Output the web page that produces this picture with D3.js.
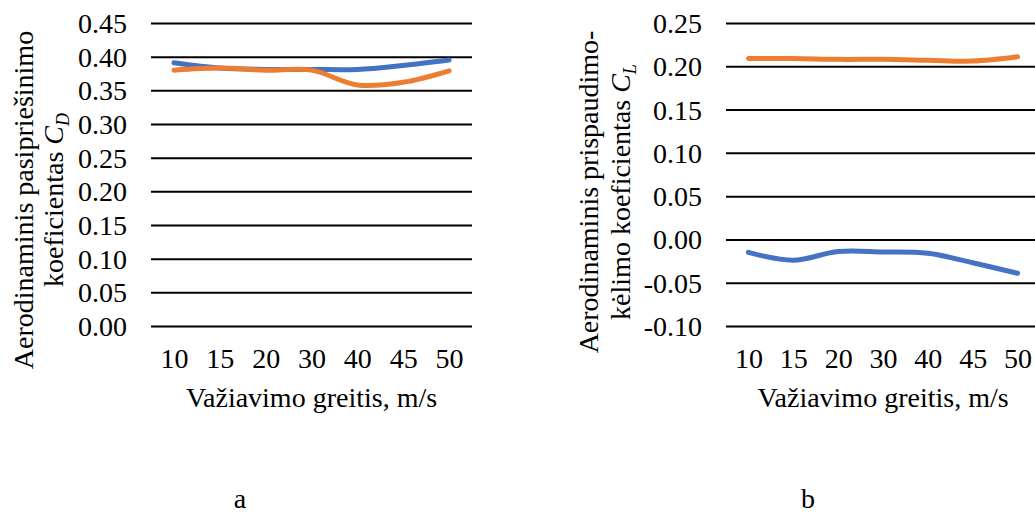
<!DOCTYPE html>
<html>
<head>
<meta charset="utf-8">
<script src="https://cdn.jsdelivr.net/npm/d3@7"></script>
<style>
  body { margin: 0; background: #fff; }
  svg text { font-family: "Liberation Serif", "Times New Roman", serif; fill: #000; }
</style>
</head>
<body>
<div id="chart"></div>
<script>
// Data
const categories = ["10", "15", "20", "30", "40", "45", "50"];
const dragBlue = [0.391, 0.383, 0.381, 0.381, 0.381, 0.387, 0.395];
const dragOrange = [0.380, 0.383, 0.380, 0.380, 0.358, 0.362, 0.379];
const liftBlue = [-0.015, -0.024, -0.014, -0.0145, -0.016, -0.027, -0.039];
const liftOrange = [0.209, 0.209, 0.208, 0.208, 0.207, 0.206, 0.211];
const dragTicks = [0, 0.05, 0.10, 0.15, 0.20, 0.25, 0.30, 0.35, 0.40, 0.45];
const liftTicks = [-0.10, -0.05, 0, 0.05, 0.10, 0.15, 0.20, 0.25];

const width = 1035;
const height = 514;
const blue = "#4472C4";
const orange = "#ED7D31";

const svg = d3.select("#chart")
    .append("svg")
    .attr("width", width)
    .attr("height", height);

const fmt = d => d3.format(".2f")(d).replace("\u2212", "-");

function drawChart(o) {
    const g = svg.append("g");

    const x = d3.scalePoint()
        .domain(categories)
        .range([o.left, o.right])
        .padding(0.5);

    const y = d3.scaleLinear()
        .domain(o.domain)
        .range([o.bottom, o.top]);

    // y axis with gridlines
    const yAxis = g.append("g")
        .attr("transform", `translate(${o.left},0)`)
        .call(d3.axisLeft(y)
            .tickValues(o.ticks)
            .tickSize(-(o.right - o.left))
            .tickPadding(24)
            .tickFormat(fmt));
    yAxis.select(".domain").remove();
    yAxis.selectAll("line").attr("stroke", "#000").attr("stroke-width", 2);
    yAxis.selectAll("text").style("font-size", "28px").attr("dy", "0.34em");

    // x axis labels
    const xAxis = g.append("g")
        .attr("transform", `translate(0,${o.bottom})`)
        .call(d3.axisBottom(x).tickSize(0).tickPadding(22));
    xAxis.select(".domain").remove();
    xAxis.selectAll("text").style("font-size", "28px");

    // lines
    const line = d3.line()
        .x((d, i) => x(categories[i]))
        .y(d => y(d))
        .curve(d3.curveCatmullRom.alpha(0.5));

    o.series.forEach(s => {
        g.append("path")
            .datum(s.values)
            .attr("d", line)
            .attr("fill", "none")
            .attr("stroke", s.color)
            .attr("stroke-width", 5)
            .attr("stroke-linecap", "round");
    });

    // x axis title
    g.append("text")
        .attr("x", (o.left + o.right) / 2 + o.titleShift)
        .attr("y", 407)
        .attr("text-anchor", "middle")
        .style("font-size", "28px")
        .text("Važiavimo greitis, m/s");

    // y axis title, two lines
    const yt = g.append("text")
        .attr("transform", `translate(${o.yTitleX},${o.yTitleY}) rotate(-90)`)
        .attr("text-anchor", "middle")
        .style("font-size", "28px");
    yt.append("tspan").attr("x", 0).attr("y", 0).text(o.yTitle1);
    yt.append("tspan").attr("x", 0).attr("y", o.lineGap).text(o.yTitle2);
    yt.append("tspan").style("font-style", "italic").text("C");
    yt.append("tspan")
        .style("font-style", "italic")
        .style("font-size", "18px")
        .attr("dy", 6)
        .text(o.sub);

    // panel letter
    svg.append("text")
        .attr("x", o.letterX)
        .attr("y", 508)
        .attr("text-anchor", "middle")
        .style("font-size", "28px")
        .text(o.letter);
}

drawChart({
    left: 151, right: 472, top: 23, bottom: 326,
    domain: [0, 0.45], ticks: dragTicks,
    series: [{ values: dragBlue, color: blue }, { values: dragOrange, color: orange }],
    titleShift: 0,
    yTitleX: 33, yTitleY: 200, lineGap: 30,
    yTitle1: "Aerodinaminis pasipriešinimo",
    yTitle2: "koeficientas ",
    sub: "D",
    letter: "a", letterX: 240
});

drawChart({
    left: 726, right: 1040, top: 23, bottom: 326,
    domain: [-0.10, 0.25], ticks: liftTicks,
    series: [{ values: liftBlue, color: blue }, { values: liftOrange, color: orange }],
    titleShift: 0,
    yTitleX: 598, yTitleY: 192, lineGap: 32,
    yTitle1: "Aerodinaminis prispaudimo-",
    yTitle2: "kėlimo koeficientas ",
    sub: "L",
    letter: "b", letterX: 808
});
</script>
</body>
</html>
